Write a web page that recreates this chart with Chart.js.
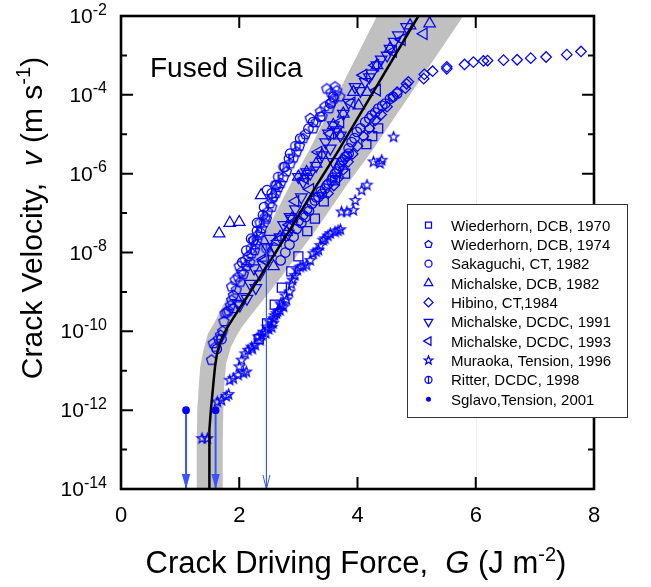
<!DOCTYPE html>
<html><head><meta charset="utf-8">
<script src="https://cdn.jsdelivr.net/npm/chart.js@4/dist/chart.umd.min.js"></script>
<style>html,body{margin:0;padding:0;background:#fff}canvas{display:block}</style>
</head><body>
<canvas id="c" width="651" height="587"></canvas>
<script>
// ---------------- DATA ----------------
const xTicks = [0, 2, 4, 6, 8];
const yTickExponents = [-14, -12, -10, -8, -6, -4, -2];

const legendLabels = ["Wiederhorn, DCB, 1970", "Wiederhorn, DCB, 1974", "Sakaguchi, CT, 1982",
  "Michalske, DCB, 1982", "Hibino, CT,1984", "Michalske, DCDC, 1991", "Michalske, DCDC, 1993",
  "Muraoka, Tension, 1996", "Ritter, DCDC, 1998", "Sglavo,Tension, 2001"];

const w1970G = [2.33, 2.47, 2.60, 2.72, 2.88, 3.00, 3.15, 3.28, 3.43, 3.62, 3.79, 4.15, 4.25, 4.35];
const w1970LogV = [-10.2, -9.8, -9.32, -8.89, -8.48, -8.10, -7.46, -7.14, -6.70, -6.17, -6.00, -5.25, -5.05, -4.85];

const w1974G = [1.53, 1.56, 1.65, 1.68, 1.72, 1.76, 1.82, 1.90, 1.79, 1.87, 1.90, 1.87, 1.93, 1.98, 2.00, 2.04, 2.10, 2.15, 2.21, 2.24, 2.28, 2.32, 2.35, 2.38, 2.44, 2.48, 2.52, 2.58, 2.66, 2.75, 2.86, 2.97, 3.08, 3.20, 3.25, 3.37, 3.45, 3.48, 3.55, 3.56, 3.60, 3.62, 3.65, 3.70,
  1.95, 2.02, 2.07, 2.12, 2.18, 2.26, 2.30, 2.36, 2.42, 2.46, 2.55, 2.62, 2.70, 2.80, 2.92, 3.02, 3.12, 3.30, 3.40, 3.52, 1.60, 1.74, 1.85];
const w1974LogV = [-10.73, -10.31, -10.2, -10.1, -10.0, -9.55, -9.48, -9.42, -9.51, -9.21, -9.09, -8.87, -8.70, -8.62, -8.35, -8.49, -8.20, -8.10, -8.03, -7.69, -7.80, -7.56, -7.25, -7.39, -7.10, -6.97, -6.76, -6.59, -6.35, -6.10, -5.75, -5.45, -5.11, -4.60, -4.86, -4.43, -4.30, -3.85, -3.95, -4.20, -4.10, -3.80, -3.90, -4.05,
  -8.95, -8.75, -8.55, -8.35, -8.25, -7.95, -7.70, -7.50, -7.25, -7.15, -6.85, -6.50, -6.25, -5.95, -5.60, -5.30, -5.00, -4.70, -4.55, -4.35, -10.4, -9.75, -9.35];

const sakG = [3.00, 3.08, 3.15, 3.23, 3.28, 3.34, 3.40, 3.45, 3.51, 3.56, 3.62, 3.68, 3.73, 3.79, 3.85, 3.85, 3.90, 3.99, 4.13, 4.24, 4.35, 4.47, 4.55, 4.67, 1.62, 1.70, 2.05, 2.12, 2.20, 2.30, 2.42, 2.47, 2.55, 2.63, 2.77, 2.86, 3.03, 3.17, 3.25, 3.37, 3.54, 3.59,
  2.70, 2.78, 2.85, 2.92, 2.97, 3.05, 3.12, 3.18, 3.30, 3.38, 3.48, 3.58, 3.65, 3.70, 3.76, 3.82, 3.95, 4.05, 4.20, 4.30, 4.42, 4.60];
const sakLogV = [-7.20, -7.05, -6.90, -6.76, -6.68, -6.59, -6.51, -6.38, -6.25, -6.17, -6.00, -5.87, -5.70, -5.58, -5.49, -5.36, -5.20, -4.94, -4.69, -4.52, -4.35, -4.22, -4.10, -3.97, -10.45, -10.2, -8.25, -7.95, -7.65, -7.25, -6.85, -6.42, -6.50, -6.29, -5.83, -5.49, -5.11, -4.86, -4.69, -4.56, -4.22, -4.05,
  -8.20, -8.00, -7.80, -7.60, -7.40, -7.25, -7.10, -6.95, -6.60, -6.45, -6.30, -6.10, -5.95, -5.80, -5.65, -5.55, -5.10, -4.85, -4.60, -4.45, -4.28, -4.05];

const m1982G = [1.66, 1.84, 2.00, 2.37, 2.52, 2.58, 2.69, 2.80, 2.89, 3.00, 3.14, 3.30, 3.40, 3.59, 3.71, 3.76, 3.93, 4.02, 4.16, 4.33, 4.55, 4.89, 5.22];
const m1982LogV = [-7.52, -7.25, -7.23, -6.55, -8.00, -8.35, -7.61, -7.48, -7.14, -6.08, -5.96, -5.75, -5.53, -4.77, -5.03, -4.48, -3.93, -4.27, -3.93, -3.25, -2.83, -2.24, -2.19];

const hibinoG = [7.78, 7.54, 7.19, 6.93, 6.70, 6.47, 6.20, 6.13, 5.96, 5.81, 5.51, 5.51, 5.27, 5.13, 5.12, 4.86, 4.83, 4.81, 4.67, 4.61, 4.50, 4.40, 4.30, 4.20, 4.10, 4.00, 3.92, 3.84, 3.76, 3.68, 3.60, 3.50];
const hibinoLogV = [-2.90, -2.98, -3.04, -3.07, -3.11, -3.12, -3.13, -3.14, -3.17, -3.23, -3.29, -3.34, -3.40, -3.48, -3.59, -3.67, -3.72, -3.83, -3.93, -4.05, -4.30, -4.50, -4.65, -4.85, -5.05, -5.30, -5.50, -5.70, -5.90, -6.10, -6.30, -6.50];

const m1991G = [1.98, 2.01, 2.07, 2.13, 2.18, 2.25, 2.35, 2.47, 2.52, 2.69, 2.83, 2.86, 2.89, 3.00, 3.08, 3.14, 3.40, 3.51, 3.54, 3.59, 3.59, 3.71, 3.76, 3.96, 4.13, 4.24, 4.33, 4.50, 4.55, 4.69, 4.83,
  2.28, 2.40, 2.60, 2.75, 2.95, 3.05, 3.20, 3.30, 3.46, 3.65, 3.85, 4.05, 4.20, 4.40, 4.62];
const m1991LogV = [-9.30, -9.34, -9.13, -9.17, -8.79, -8.40, -8.55, -7.86, -7.65, -7.61, -7.52, -7.10, -7.14, -6.08, -6.21, -5.96, -5.53, -4.98, -5.36, -5.70, -4.77, -5.03, -4.48, -3.80, -3.67, -3.46, -3.25, -3.00, -2.83, -2.49, -2.28,
  -8.90, -8.30, -7.90, -7.30, -6.90, -6.60, -6.00, -5.80, -5.20, -4.90, -4.20, -3.90, -3.55, -3.10, -2.65];

const m1993G = [2.41, 2.44, 2.65, 2.85, 2.95, 3.11, 3.20, 3.34, 3.54, 3.71, 3.90, 4.10, 4.30, 4.33, 4.60, 4.75, 5.12];
const m1993LogV = [-8.17, -8.20, -7.70, -7.30, -6.70, -6.12, -6.40, -5.45, -4.98, -4.69, -4.20, -3.50, -3.25, -3.88, -2.90, -2.60, -2.45];

const muraokaG = [1.37, 1.46, 1.63, 1.70, 1.82, 1.84, 1.98, 2.07, 2.12, 2.04, 2.10, 2.15, 2.21, 2.27, 2.35, 2.32, 2.41, 2.45, 2.47, 2.52, 2.55, 2.58, 2.60, 2.63, 2.69, 2.70, 2.75, 2.80, 2.85, 2.88, 2.94, 3.03, 3.14, 3.20, 3.25, 3.34, 3.37, 3.42, 3.45, 3.54, 3.62, 3.71, 3.73, 3.82, 3.93, 3.96, 4.07, 4.16, 4.27, 4.38, 4.41, 4.61,
  2.38, 2.50, 2.57, 2.65, 2.72, 2.78, 2.90, 2.98, 3.08, 3.30, 3.50, 3.67, 2.22, 2.00, 1.90, 1.78];
const muraokaLogV = [-12.72, -12.72, -11.79, -11.75, -11.60, -11.24, -11.11, -11.06, -11.03, -10.73, -10.57, -10.48, -10.40, -10.35, -10.23, -10.14, -10.02, -10.05, -9.89, -9.76, -9.90, -9.68, -9.60, -9.55, -9.47, -9.30, -9.38, -9.20, -9.00, -8.80, -8.58, -8.37, -8.32, -8.20, -8.03, -7.94, -7.82, -7.69, -7.65, -7.52, -7.48, -7.42, -6.97, -6.97, -6.93, -6.68, -6.42, -6.29, -5.70, -5.74, -5.66, -5.07,
  -10.10, -9.95, -9.80, -9.50, -9.35, -9.10, -8.70, -8.45, -8.35, -7.98, -7.58, -7.45, -10.45, -10.90, -11.20, -11.65];

const ritterG = [2.20, 2.24, 2.30, 2.40, 2.46, 2.55, 2.61, 2.66, 2.75, 2.84, 2.95];
const ritterLogV = [-7.90, -7.69, -7.45, -7.05, -7.90, -6.62, -6.29, -6.08, -5.83, -5.62, -5.30];

const sglavoG = [1.10, 1.60];
const sglavoLogV = [-12, -12];

// threshold arrows (from a data point down to the axis minimum)
const arrowG = [1.10, 1.60, 2.46];
const arrowFromLogV = [-12, -12, -7.9];
const arrowToLogV = [-14, -14, -14];

// fitted curve and its scatter band
const curveG = [1.49, 1.49, 1.50, 1.52, 1.545, 1.57, 1.59, 1.62, 1.66, 1.72, 1.80, 1.90, 2.00, 2.10, 2.35, 2.86, 3.31, 3.68, 5.03];
const curveLogV = [-14.0, -13.0, -12.5, -12.0, -11.6, -11.2, -10.9, -10.6, -10.35, -10.12, -9.90, -9.66, -9.43, -9.20, -8.62, -7.42, -6.29, -5.41, -2.0];
const bandLowG = [1.27, 1.28, 1.29, 1.31, 1.34, 1.39, 1.47, 1.59, 1.77, 2.02, 2.47, 2.86, 3.18, 4.33];
const bandLowLogV = [-14.0, -13.0, -12.0, -11.5, -10.9, -10.5, -10.06, -9.75, -9.21, -8.62, -7.42, -6.29, -5.41, -2.0];
const bandHighG = [5.79, 4.25, 3.82, 3.30, 2.71, 2.40, 2.17, 2.04, 1.96, 1.86, 1.78, 1.75, 1.73, 1.72, 1.72];
const bandHighLogV = [-2.0, -5.41, -6.29, -7.42, -8.62, -9.21, -9.64, -9.90, -10.1, -10.4, -10.8, -11.3, -12.0, -13.0, -14.0];

// ---------------- STYLE ----------------
const FONT = '"Liberation Sans", Arial, Helvetica, sans-serif';
const BLUE = '#0000ff';
const ARROW_BLUE = '#3a55ff';
const MARK_LW = 1.25;
const arrowStyle = [{w: 2, head: 'filled'}, {w: 2, head: 'filled'}, {w: 1, head: 'open'}];

function drawShape(ctx, shape, x, y, s) {
  const r = s / 2;
  const poly = (n, rad, start, inner) => {
    ctx.beginPath();
    const m = inner ? n * 2 : n;
    for (let i = 0; i < m; i++) {
      const a = start + i * 2 * Math.PI / m;
      const rr = inner ? (i % 2 ? rad * inner : rad) : rad;
      const px = x + rr * Math.cos(a), py = y + rr * Math.sin(a);
      if (i === 0) ctx.moveTo(px, py); else ctx.lineTo(px, py);
    }
    ctx.closePath(); ctx.stroke();
  };
  const R3 = s / Math.sqrt(3);
  switch (shape) {
    case 'square': ctx.beginPath(); ctx.rect(x - r, y - r, s, s); ctx.stroke(); break;
    case 'pentagon': poly(5, r, -Math.PI / 2); break;
    case 'circle': ctx.beginPath(); ctx.arc(x, y, r, 0, 2 * Math.PI); ctx.stroke(); break;
    case 'triUp': poly(3, R3, -Math.PI / 2); break;
    case 'triDown': poly(3, R3, Math.PI / 2); break;
    case 'triLeft': poly(3, R3, Math.PI); break;
    case 'diamond': poly(4, r, -Math.PI / 2); break;
    case 'star': poly(5, r, -Math.PI / 2, 0.42); break;
    case 'phi':
      ctx.beginPath(); ctx.arc(x, y, r, 0, 2 * Math.PI); ctx.stroke();
      ctx.beginPath(); ctx.moveTo(x, y - r); ctx.lineTo(x, y + r); ctx.stroke(); break;
    case 'dot': ctx.beginPath(); ctx.arc(x, y, r, 0, 2 * Math.PI); ctx.fill(); break;
  }
}
function makeMarker(shape, s) {
  const n = Math.ceil(s) + 4;
  const c = document.createElement('canvas');
  c.width = n; c.height = n;
  const ctx = c.getContext('2d');
  ctx.strokeStyle = BLUE; ctx.fillStyle = BLUE; ctx.lineWidth = MARK_LW;
  drawShape(ctx, shape, n / 2, n / 2, s);
  return c;
}
// built-in Chart.js point styles where they exist (crisp vector drawing)
function pointOpts(shape, s) {
  switch (shape) {
    case 'square': return {pointStyle: 'rect', pointRadius: s / 1.4142, pointRotation: 0};
    case 'circle': return {pointStyle: 'circle', pointRadius: s / 2, pointRotation: 0};
    case 'triUp': return {pointStyle: 'triangle', pointRadius: s / 1.732, pointRotation: 0};
    case 'triDown': return {pointStyle: 'triangle', pointRadius: s / 1.732, pointRotation: 180};
    case 'triLeft': return {pointStyle: 'triangle', pointRadius: s / 1.732, pointRotation: 270};
    case 'diamond': return {pointStyle: 'rectRot', pointRadius: s / 2, pointRotation: 0};
    case 'dot': return {pointStyle: 'circle', pointRadius: s / 2, pointRotation: 0, pointBackgroundColor: BLUE};
    default: return {pointStyle: makeMarker(shape, s), pointRadius: s / 2, pointRotation: 0};
  }
}

const series = [
  {g: w1970G, l: w1970LogV, shape: 'square', size: 9, lsize: 6},
  {g: w1974G, l: w1974LogV, shape: 'pentagon', size: 10.5, lsize: 7.5},
  {g: sakG, l: sakLogV, shape: 'circle', size: 9.5, lsize: 7},
  {g: m1982G, l: m1982LogV, shape: 'triUp', size: 11.5, lsize: 8.5},
  {g: hibinoG, l: hibinoLogV, shape: 'diamond', size: 10.5, lsize: 9},
  {g: m1991G, l: m1991LogV, shape: 'triDown', size: 11.5, lsize: 8.5},
  {g: m1993G, l: m1993LogV, shape: 'triLeft', size: 11.5, lsize: 8.5},
  {g: muraokaG, l: muraokaLogV, shape: 'star', size: 10.5, lsize: 9},
  {g: ritterG, l: ritterLogV, shape: 'phi', size: 9.5, lsize: 7},
  {g: sglavoG, l: sglavoLogV, shape: 'dot', size: 6.5, lsize: 5}
];

const pts = (G, L) => G.map((g, i) => ({x: g, y: Math.pow(10, L[i])}));

const datasets = [];
datasets.push({
  type: 'line', label: 'band',
  data: pts(bandLowG.concat(bandHighG), bandLowLogV.concat(bandHighLogV)),
  borderWidth: 0, pointRadius: 0, backgroundColor: '#c0c0c0', borderColor: 'rgba(0,0,0,0)',
  fill: 'shape', tension: 0, order: 100
});
series.forEach((s, i) => {
  datasets.push(Object.assign({
    type: 'scatter', label: legendLabels[i], data: pts(s.g, s.l),
    pointBorderColor: BLUE, pointBackgroundColor: 'rgba(0,0,0,0)', pointBorderWidth: MARK_LW,
    showLine: false, order: i === 9 ? 0 : 10
  }, pointOpts(s.shape, s.size)));
});
arrowG.forEach((g, i) => {
  datasets.push({
    type: 'line', label: 'arrow' + i,
    data: pts([g, g], [arrowFromLogV[i], arrowToLogV[i]]),
    borderColor: ARROW_BLUE, borderWidth: arrowStyle[i].w, pointRadius: 0, fill: false, order: 3
  });
});
datasets.push({
  type: 'line', label: 'curve', data: pts(curveG, curveLogV),
  borderColor: '#000', borderWidth: 2.5, pointRadius: 0, fill: false, tension: 0, order: 1
});

// ---------------- DECORATION PLUGIN ----------------
function drawRuns(ctx, runs, cx, baseline) {
  let total = 0;
  runs.forEach(r => { ctx.font = r.font; r.w = ctx.measureText(r.t).width; total += r.w; });
  let x = cx - total / 2;
  ctx.textAlign = 'left'; ctx.textBaseline = 'alphabetic';
  runs.forEach(r => { ctx.font = r.font; ctx.fillText(r.t, x, baseline + (r.dy || 0)); x += r.w; });
}

const deco = {
  id: 'deco',
  beforeDatasetsDraw(chart) {
    const {ctx, chartArea: a, scales: {x}} = chart;
    ctx.save();
    ctx.strokeStyle = '#eeeeee'; ctx.lineWidth = 1;
    const px = Math.round(x.getPixelForValue(6)) + 0.5;
    ctx.beginPath(); ctx.moveTo(px, a.top); ctx.lineTo(px, a.bottom); ctx.stroke();
    ctx.restore();
  },
  afterDatasetsDraw(chart) {
    const {ctx, chartArea: a, scales: {x, y}} = chart;
    ctx.save();
    // arrow heads
    arrowG.forEach((g, i) => {
      const px = x.getPixelForValue(g);
      const tip = y.getPixelForValue(Math.pow(10, arrowToLogV[i]));
      ctx.strokeStyle = ARROW_BLUE; ctx.fillStyle = ARROW_BLUE;
      if (arrowStyle[i].head === 'filled') {
        ctx.beginPath(); ctx.moveTo(px - 4.2, tip - 15); ctx.lineTo(px + 4.2, tip - 15); ctx.lineTo(px, tip); ctx.closePath(); ctx.fill();
      } else {
        ctx.lineWidth = 1;
        ctx.beginPath(); ctx.moveTo(px - 3.5, tip - 14); ctx.lineTo(px, tip); ctx.lineTo(px + 3.5, tip - 14); ctx.stroke();
      }
    });
    // frame
    ctx.strokeStyle = '#000'; ctx.lineWidth = 2.6;
    ctx.strokeRect(a.left, a.top, a.right - a.left, a.bottom - a.top);
    // ticks
    ctx.lineWidth = 2;
    for (let e = -13; e <= -3; e++) {
      const py = y.getPixelForValue(Math.pow(10, e));
      const len = (e % 2 === 0) ? 12 : 6;
      ctx.beginPath();
      ctx.moveTo(a.left, py); ctx.lineTo(a.left + len, py);
      ctx.moveTo(a.right, py); ctx.lineTo(a.right - len, py);
      ctx.stroke();
    }
    xTicks.forEach(v => {
      if (v === x.min || v === x.max) return;
      const px = x.getPixelForValue(v);
      ctx.beginPath();
      ctx.moveTo(px, a.bottom); ctx.lineTo(px, a.bottom - 12);
      ctx.moveTo(px, a.top); ctx.lineTo(px, a.top + 12);
      ctx.stroke();
    });
    // tick labels
    ctx.fillStyle = '#000';
    ctx.textBaseline = 'alphabetic';
    ctx.font = '22px ' + FONT; ctx.textAlign = 'center';
    xTicks.forEach(v => ctx.fillText(String(v), x.getPixelForValue(v), 522));
    yTickExponents.forEach(e => {
      const py = y.getPixelForValue(Math.pow(10, e));
      const sup = String(e);
      ctx.font = '16px ' + FONT; const sw = ctx.measureText(sup).width;
      ctx.font = '21px ' + FONT; const bw = ctx.measureText('10').width;
      ctx.textAlign = 'left';
      const right = a.left - 14;
      ctx.fillText('10', right - sw - bw, py + 7);
      ctx.font = '16px ' + FONT;
      ctx.fillText(sup, right - sw, py - 1.5);
    });
    // axis titles
    drawRuns(ctx, [
      {t: 'Crack Driving Force,  ', font: '31px ' + FONT},
      {t: 'G', font: 'italic 31px ' + FONT},
      {t: ' (J m', font: '31px ' + FONT},
      {t: '-2', font: '20px ' + FONT, dy: -12},
      {t: ')', font: '31px ' + FONT}
    ], 356, 573);
    ctx.save();
    ctx.translate(42, 218); ctx.rotate(-Math.PI / 2);
    drawRuns(ctx, [
      {t: 'Crack Velocity,  ', font: '30px ' + FONT},
      {t: 'v', font: 'italic 30px ' + FONT},
      {t: ' (m s', font: '30px ' + FONT},
      {t: '-1', font: '20px ' + FONT, dy: -12},
      {t: ')', font: '30px ' + FONT}
    ], 0, 0);
    ctx.restore();
    // material label
    ctx.font = '28px ' + FONT; ctx.textAlign = 'left';
    ctx.fillText('Fused Silica', 150, 77);
    // legend
    const lx = 407.5, ly = 204.5, lw = 220, lh = 213;
    ctx.fillStyle = '#fff'; ctx.fillRect(lx, ly, lw, lh);
    ctx.strokeStyle = '#333'; ctx.lineWidth = 1; ctx.strokeRect(lx, ly, lw, lh);
    ctx.font = '15px ' + FONT;
    series.forEach((s, i) => {
      const cy = 225 + i * 19.35;
      ctx.strokeStyle = BLUE; ctx.fillStyle = BLUE; ctx.lineWidth = MARK_LW;
      drawShape(ctx, s.shape, 428.5, cy, s.lsize);
      ctx.fillStyle = '#000';
      ctx.fillText(legendLabels[i], 451, cy + 5.5);
    });
    ctx.restore();
  }
};

new Chart(document.getElementById('c'), {
  type: 'scatter',
  data: {datasets},
  options: {
    responsive: false, animation: false, devicePixelRatio: 1, events: [],
    layout: {padding: {left: 121, right: 57, top: 16, bottom: 98}},
    scales: {
      x: {type: 'linear', min: 0, max: 8, display: false},
      y: {type: 'logarithmic', min: 1e-14, max: 1e-2, display: false}
    },
    plugins: {legend: {display: false}, tooltip: {enabled: false}}
  },
  plugins: [deco]
});
</script>
</body></html>
